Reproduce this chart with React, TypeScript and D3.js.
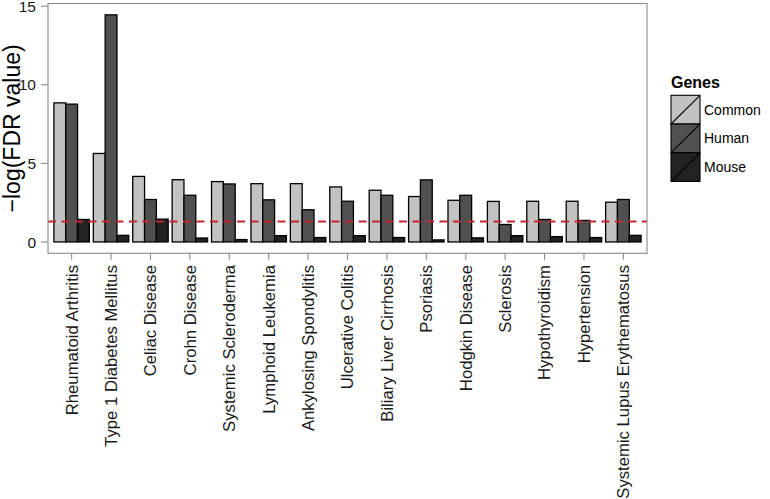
import React from "react";
import * as d3 from "d3";

const categories = [
  "Rheumatoid Arthritis",
  "Type 1 Diabetes Mellitus",
  "Celiac Disease",
  "Crohn Disease",
  "Systemic Scleroderma",
  "Lymphoid Leukemia",
  "Ankylosing Spondylitis",
  "Ulcerative Colitis",
  "Biliary Liver Cirrhosis",
  "Psoriasis",
  "Hodgkin Disease",
  "Sclerosis",
  "Hypothyroidism",
  "Hypertension",
  "Systemic Lupus Erythematosus",
];
const seriesNames = ["Common", "Human", "Mouse"];
const common = [8.85, 5.63, 4.17, 3.96, 3.84, 3.71, 3.71, 3.5, 3.29, 2.89, 2.65, 2.58, 2.59, 2.59, 2.53];
const human = [8.77, 14.45, 2.7, 2.97, 3.69, 2.68, 2.05, 2.59, 2.97, 3.95, 2.97, 1.11, 1.43, 1.37, 2.7];
const mouse = [1.43, 0.42, 1.45, 0.25, 0.15, 0.4, 0.28, 0.4, 0.28, 0.13, 0.26, 0.4, 0.34, 0.28, 0.42];
const yTicks = [0, 5, 10, 15];
const threshold = 1.3;
const yTitle = "\u2212log(FDR value)";
const legendTitle = "Genes";

const colors = ["#c2c2c2", "#505050", "#222222"];
const FONT = "'Liberation Sans', Arial, Helvetica, sans-serif";

export default function App() {
  const W = 770;
  const H = 499;
  const left = 48;
  const right = 647;
  const top = 3.5;
  const bottom = 253.3;

  const values = [common, human, mouse];
  const maxV = d3.max(values.flat()) as number;
  const pad = maxV * 0.05;

  const x = d3
    .scaleBand<string>()
    .domain(categories)
    .range([left, right])
    .paddingInner(0.1)
    .paddingOuter(0.15);
  const xs = d3.scaleBand<string>().domain(seriesNames).range([0, x.bandwidth()]).padding(0);
  const y = d3.scaleLinear().domain([-pad, maxV + pad]).range([bottom, top]);

  const legX = 671;
  const legY0 = 95.3;
  const keyW = 29;
  const keyH = 28.7;

  return (
    <svg
      width={W}
      height={H}
      style={{ position: "absolute", left: 0, top: 0, background: "#fff" }}
      fontFamily={FONT}
    >
      {/* bars */}
      {categories.map((c, i) => (
        <g key={c}>
          {seriesNames.map((s, j) => {
            const v = values[j][i];
            const x0 = (x(c) as number) + (xs(s) as number);
            return (
              <rect
                key={s}
                x={x0}
                y={y(v)}
                width={xs.bandwidth()}
                height={y(0) - y(v)}
                fill={colors[j]}
                stroke="#000"
                strokeWidth={1.3}
              />
            );
          })}
        </g>
      ))}
      {/* threshold line */}
      <line
        x1={left}
        x2={right}
        y1={y(threshold)}
        y2={y(threshold)}
        stroke="#c1272d"
        strokeWidth={2}
        strokeDasharray="8,5.5"
      />
      {/* panel border */}
      <rect
        x={left}
        y={top}
        width={right - left}
        height={bottom - top}
        fill="none"
        stroke="#8a8a8a"
        strokeWidth={1.1}
      />
      {/* y axis */}
      {yTicks.map((t) => (
        <g key={t}>
          <line x1={41} x2={left} y1={y(t)} y2={y(t)} stroke="#8a8a8a" strokeWidth={1.1} />
          <text
            x={36}
            y={y(t)}
            dy="0.36em"
            textAnchor="end"
            fontSize={15.5}
            fill="#1a1a1a"
          >
            {t}
          </text>
        </g>
      ))}
      <text
        transform={`translate(${19.5},${(top + bottom) / 2}) rotate(-90)`}
        textAnchor="middle"
        fontSize={23}
        fill="#000"
      >
        {yTitle}
      </text>
      {/* x axis */}
      {categories.map((c) => {
        const cx = (x(c) as number) + x.bandwidth() / 2;
        return (
          <g key={c}>
            <line x1={cx} x2={cx} y1={bottom} y2={bottom + 6.5} stroke="#8a8a8a" strokeWidth={1.1} />
            <text
              transform={`translate(${cx},${265}) rotate(-90)`}
              textAnchor="end"
              dy="0.35em"
              fontSize={16.7}
              fill="#1a1a1a"
            >
              {c}
            </text>
          </g>
        );
      })}
      {/* legend */}
      <text x={legX} y={88} fontSize={16} fontWeight="bold" fill="#000">
        {legendTitle}
      </text>
      {seriesNames.map((s, j) => {
        const ky = legY0 + j * keyH;
        return (
          <g key={s}>
            <rect x={legX} y={ky} width={keyW} height={keyH} fill={colors[j]} stroke="#000" strokeWidth={1.1} />
            <line x1={legX} y1={ky + keyH} x2={legX + keyW} y2={ky} stroke="#000" strokeWidth={1.1} />
            <text x={legX + keyW + 4} y={ky + keyH / 2} dy="0.36em" fontSize={14} fill="#000">
              {s}
            </text>
          </g>
        );
      })}
    </svg>
  );
}
